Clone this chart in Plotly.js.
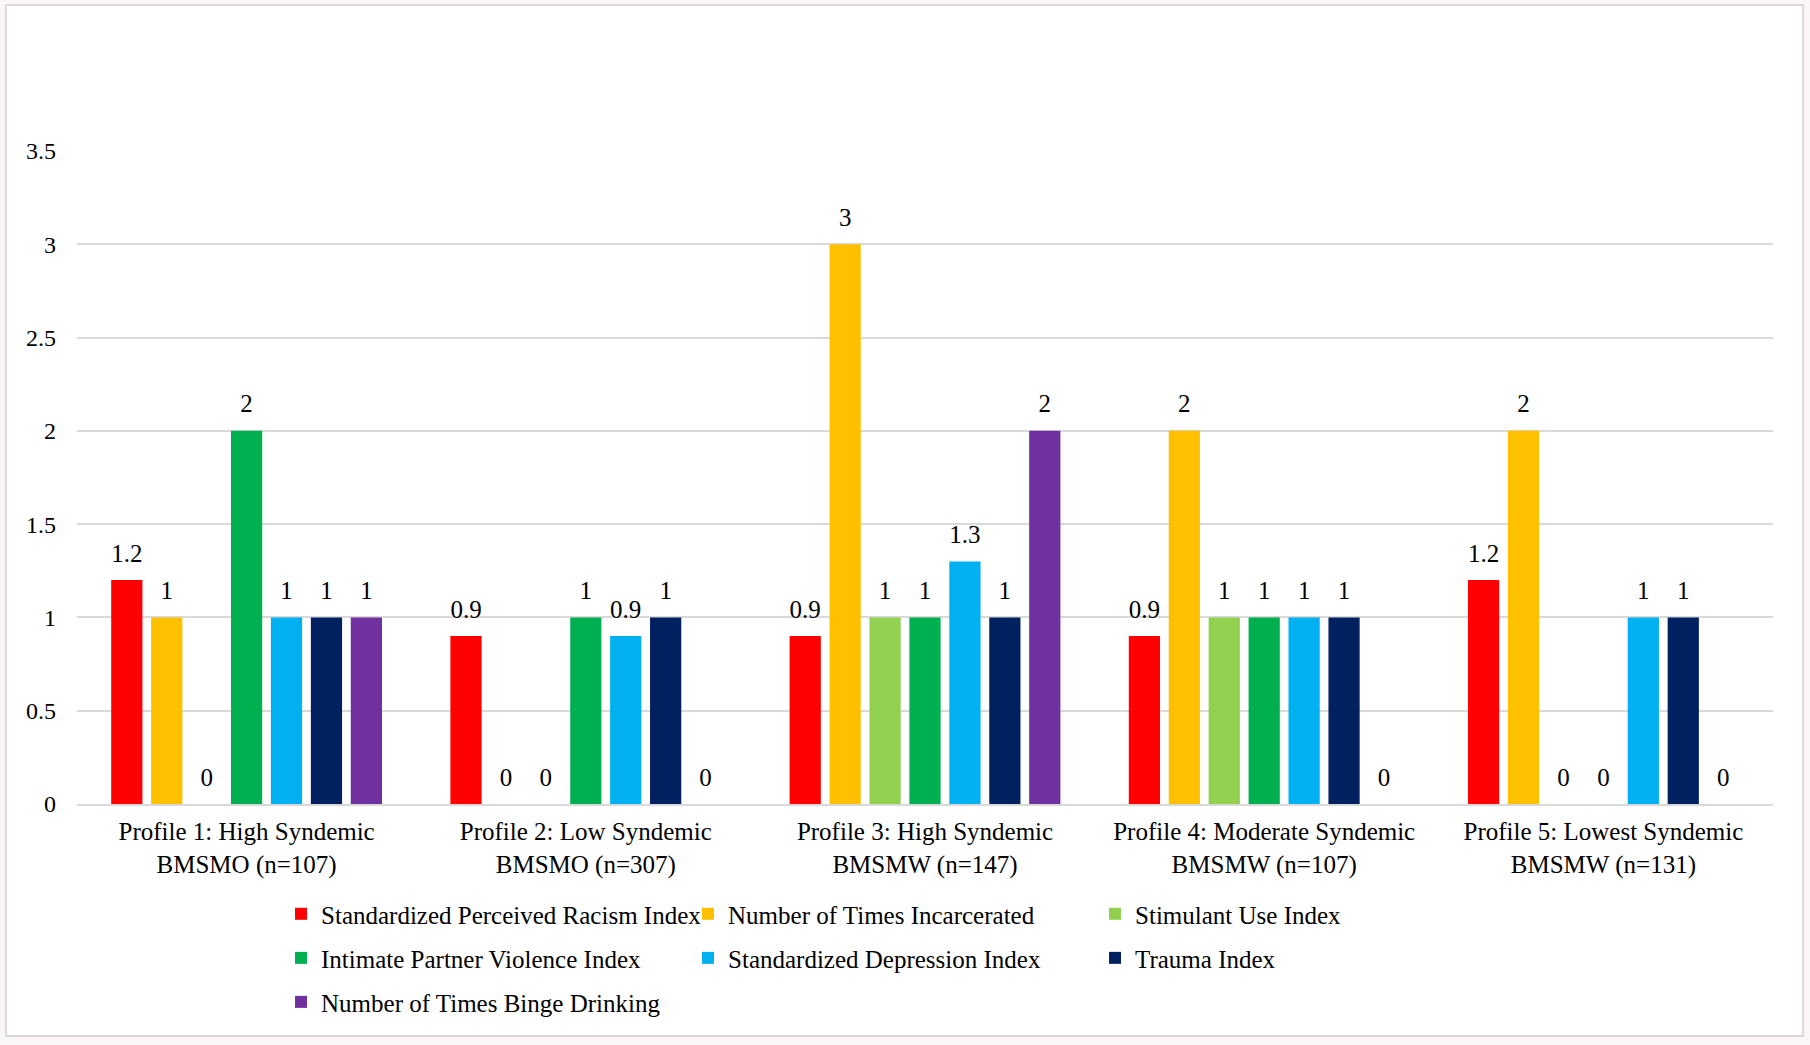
<!DOCTYPE html>
<html>
<head>
<meta charset="utf-8">
<script src="https://cdn.plot.ly/plotly-3.0.1.min.js"></script>
<style>
  html, body { margin: 0; padding: 0; background: #faf6f5; }
  #plot { width: 1810px; height: 1045px; }
</style>
</head>
<body>
<div id="plot"></div>
<script>
// categories (profiles)
const profiles = [
    'Profile 1: High Syndemic<br>BMSMO (n=107)',
    'Profile 2: Low Syndemic<br>BMSMO (n=307)',
    'Profile 3: High Syndemic<br>BMSMW (n=147)',
    'Profile 4: Moderate Syndemic<br>BMSMW (n=107)',
    'Profile 5: Lowest Syndemic<br>BMSMW (n=131)'
]

// series values
const racism = [1.2, 0.9, 0.9, 0.9, 1.2]
const incarcerated = [1, 0, 3, 2, 2]
const stimulant = [0, 0, 1, 1, 0]
const ipv = [2, 1, 1, 1, 0]
const depression = [1, 0.9, 1.3, 1, 1]
const trauma = [1, 1, 1, 1, 1]
const binge = [1, 0, 2, 0, 0]

const yTicks = [0, 0.5, 1, 1.5, 2, 2.5, 3, 3.5]

const font = 'Liberation Serif, Times New Roman, serif'

// name, values, colour, which legend row
const series = [
    ['Standardized Perceived Racism Index', racism, '#ff0000', 'legend'],
    ['Number of Times Incarcerated', incarcerated, '#ffc000', 'legend'],
    ['Stimulant Use Index', stimulant, '#92d050', 'legend'],
    ['Intimate Partner Violence Index', ipv, '#00b050', 'legend2'],
    ['Standardized Depression Index', depression, '#00b0f0', 'legend2'],
    ['Trauma Index', trauma, '#002060', 'legend2'],
    ['Number of Times Binge Drinking', binge, '#7030a0', 'legend3'],
]

const bars = series.map(s => ({
    type: 'bar',
    name: s[0],
    x: profiles,
    y: s[1],
    marker: {color: s[2]},
    legend: s[3],
    hoverinfo: 'name+y',
}))

// value labels: text-only scatter, grouped the same way as the bars
const labels = series.map(s => ({
    type: 'scatter',
    mode: 'markers+text',
    x: profiles,
    y: s[1],
    text: s[1].map(v => String(v)),
    textposition: 'top center',
    textfont: {family: font, size: 25, color: '#000'},
    marker: {size: 18, color: 'rgba(0,0,0,0)'},
    cliponaxis: false,
    showlegend: false,
    hoverinfo: 'skip',
}))

// one horizontal legend per row, so the rows wrap like the original
function legendRow(y) {
    return {
        orientation: 'h',
        x: 0.1203, xanchor: 'left',
        y: y, yanchor: 'middle',
        entrywidth: 362,
        bgcolor: 'rgba(0,0,0,0)',
        font: {family: font, size: 25, color: '#000'},
    }
}

const layout = {
    width: 1810,
    height: 1045,
    margin: {l: 77, r: 37, t: 151, b: 241},
    paper_bgcolor: '#faf6f5',
    plot_bgcolor: 'rgba(0,0,0,0)',
    font: {family: font, size: 25, color: '#000'},
    barmode: 'group',
    bargap: 0.176,
    bargroupgap: 0.218,
    scattermode: 'group',
    scattergap: 0.176,
    showlegend: true,
    legend: legendRow(-0.1685),
    legend2: legendRow(-0.236),
    legend3: legendRow(-0.3034),
    xaxis: {
        type: 'category',
        showgrid: false,
        showline: true,
        linecolor: '#d9d9d9',
        linewidth: 2,
        ticks: '',
        ticklabelstandoff: 4,
        tickfont: {family: font, size: 25, color: '#000'},
    },
    yaxis: {
        range: [0, 3.5],
        tickvals: yTicks,
        showgrid: true,
        gridcolor: '#d9d9d9',
        gridwidth: 2,
        zeroline: false,
        showline: false,
        ticks: '',
        ticklabelstandoff: 20,
        tickfont: {family: font, size: 24, color: '#000'},
    },
    shapes: [{
        type: 'rect', xref: 'paper', yref: 'paper', layer: 'below',
        x0: -0.0419, x1: 1.0177, y0: -0.3553, y1: 1.2236,
        fillcolor: '#ffffff',
        line: {color: '#d9d9d9', width: 2},
    }],
}

Plotly.newPlot('plot', bars.concat(labels), layout, {displayModeBar: false})
</script>
</body>
</html>
